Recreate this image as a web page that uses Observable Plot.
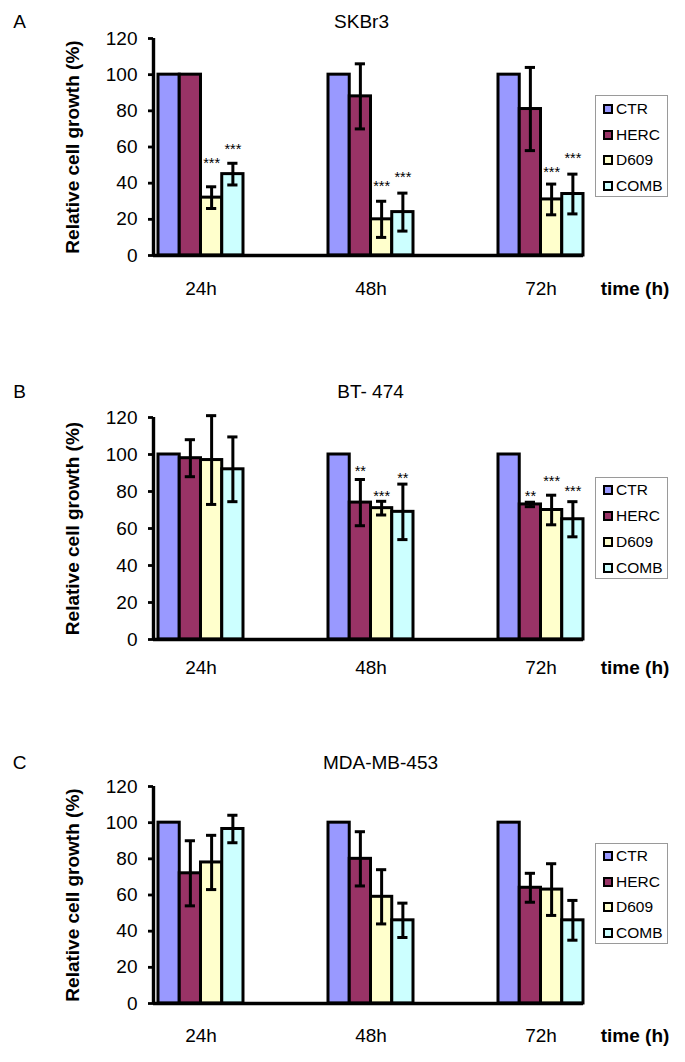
<!DOCTYPE html>
<html><head><meta charset="utf-8">
<script src="https://cdn.jsdelivr.net/npm/d3@7"></script>
<script src="https://cdn.jsdelivr.net/npm/@observablehq/plot@0.6"></script>
<style>
body{margin:0;background:#fff;font-family:"Liberation Sans",Arial,sans-serif;color:#000;}
#page{position:relative;width:685px;height:1062px;overflow:hidden;background:#fff;}
.panel{position:absolute;left:0;width:685px;}
.panel svg{position:absolute;left:0;top:0;}
.legend{position:absolute;left:595px;width:73px;border:1px solid #9a9a9a;background:#fff;box-sizing:border-box;}
.legend .row{position:absolute;left:7px;height:20px;display:flex;align-items:center;font-size:15.5px;line-height:1;}
.legend .sw{width:6px;height:6px;border:2.5px solid #000;margin-right:3px;flex:none;}
</style></head><body><div id="page"></div>
<script>
const times = ["24h", "48h", "72h"];
const treatments = ["CTR", "HERC", "D609", "COMB"];
const colors = ["#9999FF", "#993366", "#FFFFCC", "#CCFFFF"];
const yTicks = [0, 20, 40, 60, 80, 100, 120];

// SKBr3 (rows = time, columns = treatment)
const skbr3Values = [[100, 100, 32, 45], [100, 88, 20, 24], [100, 81, 31, 34]];
const skbr3Errors = [[0, 0, 6, 6], [0, 18, 10, 10.5], [0, 23, 8.5, 11]];
const skbr3Stars  = [["", "", "***", "***"], ["", "", "***", "***"], ["", "", "***", "***"]];
const skbr3StarY  = [[0, 0, 53, 61], [0, 0, 40.5, 45.5], [0, 0, 48, 55.7]];

// BT-474
const bt474Values = [[100, 98, 97, 92], [100, 74, 71, 69], [100, 73, 70, 65]];
const bt474Errors = [[0, 10, 24, 17.5], [0, 12.5, 3.7, 15], [0, 1.2, 8, 9.5]];
const bt474Stars  = [["", "", "", ""], ["", "**", "***", "**"], ["", "**", "***", "***"]];
const bt474StarY  = [[0, 0, 0, 0], [0, 92.8, 79.6, 89.5], [0, 79.6, 87.8, 82.4]];

// MDA-MB-453
const mdaValues = [[100, 72, 78, 96.5], [100, 80, 59, 46], [100, 64, 63, 46]];
const mdaErrors = [[0, 18, 15, 7.6], [0, 15, 15, 9.5], [0, 8, 14.3, 11]];
const mdaStars  = [["", "", "", ""], ["", "", "", ""], ["", "", "", ""]];
const mdaStarY  = [[0, 0, 0, 0], [0, 0, 0, 0], [0, 0, 0, 0]];

const panels = [
  {letter: "A", title: "SKBr3", values: skbr3Values, errors: skbr3Errors, stars: skbr3Stars, starY: skbr3StarY,
   top: 0, height: 300, y120: 38, y0: 255, titleX: 361, titleY: 21.5, labelY: 288, legendTop: 95, legendH: 102, rowGap: 25.5, rowFirst: 13},
  {letter: "B", title: "BT- 474", values: bt474Values, errors: bt474Errors, stars: bt474Stars, starY: bt474StarY,
   top: 360, height: 320, y120: 417, y0: 639, titleX: 370, titleY: 391, labelY: 667, legendTop: 477, legendH: 102, rowGap: 26, rowFirst: 12},
  {letter: "C", title: "MDA-MB-453", values: mdaValues, errors: mdaErrors, stars: mdaStars, starY: mdaStarY,
   top: 720, height: 342, y120: 786, y0: 1003, titleX: 380, titleY: 762, labelY: 1035, legendTop: 843, legendH: 101, rowGap: 25.5, rowFirst: 12}
];

const FONT = '"Liberation Sans", Arial, sans-serif';
const page = document.getElementById("page");
const xDomain = [-0.235, 20];
const ML = 153, MR = 102;
const frameCenter = (ML + (685 - MR)) / 2;
const SW = 3;

for (const p of panels) {
  const rows = [];
  times.forEach((t, g) => treatments.forEach((tr, i) => rows.push({
    time: t, treatment: tr, pos: g * 8 + i,
    value: p.values[g][i], err: p.errors[g][i], star: p.stars[g][i], starY: p.starY[g][i]
  })));
  const withErr = rows.filter(d => d.err > 0);
  const withStar = rows.filter(d => d.star);

  const svg = Plot.plot({
    width: 685, height: p.height,
    marginLeft: ML, marginRight: MR,
    marginTop: p.y120 - p.top, marginBottom: p.top + p.height - p.y0,
    style: {fontFamily: FONT, background: "transparent", color: "#000", overflow: "visible"},
    x: {type: "linear", domain: xDomain, axis: null},
    y: {domain: [0, 120], axis: null},
    color: {domain: treatments, range: colors},
    marks: [
      Plot.rectY(rows, {x1: "pos", x2: d => d.pos + 1, y: "value", fill: "treatment", stroke: "#000", strokeWidth: SW}),
      Plot.ruleX(withErr, {x: d => d.pos + 0.5, y1: d => d.value - d.err, y2: d => d.value + d.err, stroke: "#000", strokeWidth: SW}),
      Plot.ruleY(withErr, {y: d => d.value + d.err, x1: d => d.pos + 0.26, x2: d => d.pos + 0.74, stroke: "#000", strokeWidth: SW}),
      Plot.ruleY(withErr, {y: d => d.value - d.err, x1: d => d.pos + 0.26, x2: d => d.pos + 0.74, stroke: "#000", strokeWidth: SW}),
      Plot.axisY({ticks: yTicks, tickSize: 5, tickPadding: 11, fontSize: 19, strokeWidth: 2.8, label: null, tickFormat: d => String(d)}),
      Plot.ruleX([xDomain[0]], {y1: 0, y2: 120, stroke: "#000", strokeWidth: 3.4}),
      Plot.ruleY([0], {stroke: "#000", strokeWidth: 3.4}),
      Plot.text(times, {x: (d, i) => i * 8 + 2, y: () => 0, text: d => d, dy: p.labelY - p.y0, fontSize: 19}),
      Plot.text(withStar, {x: d => d.pos + 0.5, y: "starY", text: "star", fontSize: 14.5, dy: 4}),
      Plot.text([p.title], {text: d => d, frameAnchor: "top", textAnchor: "middle", lineAnchor: "middle",
        dx: p.titleX - frameCenter, dy: p.titleY - p.y120, fontSize: 19}),
      Plot.text([p.letter], {text: d => d, frameAnchor: "top-left", textAnchor: "middle", lineAnchor: "middle",
        dx: 19 - ML, dy: p.titleY - p.y120, fontSize: 19}),
      Plot.text(["Relative cell growth (%)"], {text: d => d, frameAnchor: "left", textAnchor: "middle", lineAnchor: "middle",
        rotate: -90, dx: 72 - ML, fontSize: 19, fontWeight: "bold"}),
      Plot.text(["time (h)"], {text: d => d, frameAnchor: "bottom-right", textAnchor: "middle", lineAnchor: "middle",
        dx: 634.5 - (685 - MR), dy: p.labelY - p.y0, fontSize: 19, fontWeight: "bold"})
    ]
  });

  const panel = document.createElement("div");
  panel.className = "panel";
  panel.style.top = p.top + "px";
  panel.style.height = p.height + "px";
  panel.appendChild(svg);

  const legend = document.createElement("div");
  legend.className = "legend";
  legend.style.top = (p.legendTop - p.top) + "px";
  legend.style.height = p.legendH + "px";
  treatments.forEach((tr, i) => {
    const row = document.createElement("div");
    row.className = "row";
    row.style.top = (p.rowFirst + i * p.rowGap - 10) + "px";
    const sw = document.createElement("span");
    sw.className = "sw";
    sw.style.background = colors[i];
    const label = document.createElement("span");
    label.textContent = tr;
    row.appendChild(sw);
    row.appendChild(label);
    legend.appendChild(row);
  });
  panel.appendChild(legend);
  page.appendChild(panel);
}
</script>
</body></html>
